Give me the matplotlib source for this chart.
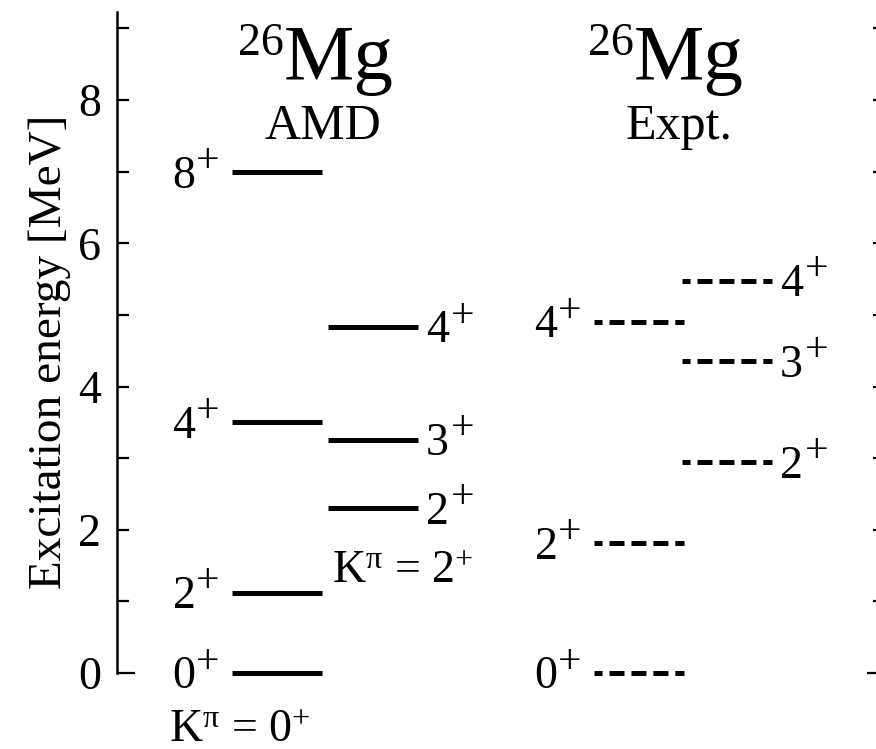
import matplotlib.pyplot as plt
from matplotlib.ticker import MultipleLocator

plt.rcParams['font.family'] = 'Liberation Serif'
plt.rcParams['mathtext.fontset'] = 'custom'
plt.rcParams['mathtext.rm'] = 'Liberation Serif'
plt.rcParams['mathtext.it'] = 'Liberation Serif:italic'
plt.rcParams['lines.scale_dashes'] = False

# level energies (MeV) and spins, 26Mg
amd_k0_spin = ["0", "2", "4", "8"]
amd_k0_e = [0.0, 1.12, 3.50, 6.99]
amd_k2_spin = ["2", "3", "4"]
amd_k2_e = [2.30, 3.26, 4.83]
exp_gs_spin = ["0", "2", "4"]
exp_gs_e = [0.0, 1.81, 4.90]
exp_gam_spin = ["2", "3", "4"]
exp_gam_e = [2.94, 4.35, 5.48]

# left edge of each band, in units of one level width
x_k0, x_k2, x_gs, x_gam = 1.278, 2.344, 5.30, 6.278

fig = plt.figure(figsize=(8.76, 7.49), dpi=100)
ax = fig.add_axes([0.1336, 0.1015, 0.8767, 0.8825])
ax.set_xlim(0, 8.533)
ax.set_ylim(0, 9.23)


def spin_label(x, e, j, side):
    # spin digit plus a raised parity sign, offsets in points
    if side == 'left':
        ax.annotate("+", xy=(x, e), xytext=(-9.4, 0.3), textcoords='offset points',
                    ha='right', va='baseline', fontsize=30, annotation_clip=False)
        ax.annotate(j, xy=(x, e), xytext=(-26.3, -11), textcoords='offset points',
                    ha='right', va='baseline', fontsize=33, annotation_clip=False)
    else:
        ax.annotate(j, xy=(x, e), xytext=(5.8, -11), textcoords='offset points',
                    ha='left', va='baseline', fontsize=33, annotation_clip=False)
        ax.annotate("+", xy=(x, e), xytext=(23.8, 0.3), textcoords='offset points',
                    ha='left', va='baseline', fontsize=30, annotation_clip=False)


def levels(x0, energies, spins, side, dashed):
    for e, j in zip(energies, spins):
        if dashed:
            ax.plot([x0, x0 + 1], [e, e], color='k', lw=3.6,
                    linestyle=(5.0, (10.8, 5.0)), dash_capstyle='butt', clip_on=False)
        else:
            ax.plot([x0, x0 + 1], [e, e], color='k', lw=3.6,
                    solid_capstyle='butt', clip_on=False)
        spin_label(x0 if side == 'left' else x0 + 1, e, j, side)


levels(x_k0, amd_k0_e, amd_k0_spin, 'left', False)
levels(x_k2, amd_k2_e, amd_k2_spin, 'right', False)
levels(x_gs, exp_gs_e, exp_gs_spin, 'left', True)
levels(x_gam, exp_gam_e, exp_gam_spin, 'right', True)

# band labels
ax.text(x_k0 + 0.09, -0.97, r"K$^{\mathrm{\pi}}$ = 0$^{+}$", fontsize=33,
        ha='center', va='baseline', clip_on=False)
ax.text(x_k2 + 0.83, 1.26, r"K$^{\mathrm{\pi}}$ = 2$^{+}$", fontsize=33,
        ha='center', va='baseline', clip_on=False)

# headers
for xm, sub in [(1.856, "AMD"), (5.744, "Expt.")]:
    ax.text(xm, 8.30, "Mg", fontsize=57, ha='left', va='baseline', clip_on=False)
    ax.text(xm, 8.63, "26", fontsize=33, ha='right', va='baseline', clip_on=False)
ax.text(2.289, 7.45, "AMD", fontsize=36, ha='center', va='baseline', clip_on=False)
ax.text(6.244, 7.45, "Expt.", fontsize=36, ha='center', va='baseline', clip_on=False)

ax.set_xticks([])
ax.set_yticks([0, 2, 4, 6, 8])
ax.yaxis.set_minor_locator(MultipleLocator(1))
ax.tick_params(axis='y', which='both', direction='in', left=True, right=True,
               length=8.6, width=1.6, labelsize=33, pad=11.5)
for t in ax.yaxis.get_major_ticks()[:1]:
    t.tick1line.set_markersize(13)
    t.tick2line.set_markersize(13)
ax.spines['top'].set_visible(False)
ax.spines['bottom'].set_visible(False)
ax.spines['left'].set_linewidth(1.8)
ax.spines['right'].set_linewidth(1.8)

fig.text(50 / 876, 1 - 351.5 / 749, "Excitation energy [MeV]", fontsize=34,
         rotation=90, ha='center', va='center')

fig.savefig("out.png", dpi=100)
